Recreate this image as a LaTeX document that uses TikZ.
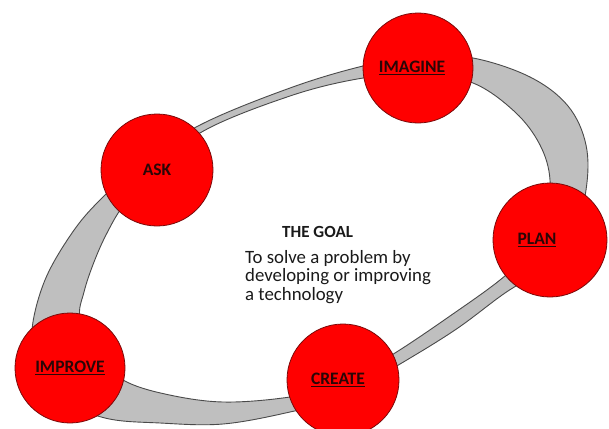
\documentclass[tikz,border=0pt]{standalone}
\usepackage{fontspec}
\setmainfont{Carlito}
\usetikzlibrary{positioning}
\definecolor{stageRed}{HTML}{FF0000}
\definecolor{stageRim}{HTML}{7A0A0A}
\definecolor{stageInk}{HTML}{2A0606}
\definecolor{ringGrey}{HTML}{BFBFBF}
\definecolor{ringEdge}{HTML}{4A4A4A}
\definecolor{goalInk}{HTML}{1A1A1A}
\begin{document}
\begin{tikzpicture}[
    x=1pt, y=-1pt,
    stage/.style={draw=stageRim, line width=0.8pt, circle, fill=stageRed, minimum size=112pt, inner sep=0pt, text=stageInk, font=\fontsize{17.5}{20}\selectfont\bfseries},
    ring/.style={draw=ringEdge, line width=0.9pt, fill=ringGrey, even odd rule},
    goal/.style={inner sep=0pt, text=goalInk, font=\fontsize{18.8}{18.5}\selectfont},
]
\useasboundingbox (0,0) rectangle (609,428);
\path[ring]
  plot[smooth cycle, tension=0.6] coordinates {
    (32,330) (45,280) (72,233) (100,200) (140,165) (200,125) (290,88) (363,66)
    (420,56) (473,58) (530,77) (568,106) (586,145) (586,190) (572,240) (545,268)
    (505,293) (455,330) (395,367) (340,398) (290,412) (223,424) (160,423) (105,418)
    (60,398) (38,365)}
  plot[smooth cycle, tension=0.6] coordinates {
    (80,318) (84,292) (94,262) (107,233) (124,205) (152,178) (200,133) (290,96)
    (363,78) (420,74) (473,83) (515,112) (540,145) (550,180) (545,220) (525,255)
    (500,280) (450,316) (395,353) (340,385) (290,397) (223,402) (165,394) (123,380)
    (95,355)};
\node[stage, minimum size=110pt] (imagine) at (418,68)  {\underline{IMAGINE}\hspace*{12pt}};
\node[stage]                     (ask)     at (157,170) {ASK};
\node[stage, minimum size=114pt] (plan)    at (550,240) {\underline{PLAN}\hspace*{26pt}};
\node[stage, minimum size=110pt] (improve) at (70,368)  {\underline{IMPROVE}};
\node[stage]                     (create)  at (343,380) {\underline{CREATE}\hspace*{10pt}};
\node[goal, anchor=base west, font=\fontsize{17}{18.5}\selectfont\bfseries] (goaltitle) at (282,237) {THE GOAL};
\node[goal, anchor=north west, align=left] (goaltext) at (245,250) {To solve a problem by\\developing or improving\\a technology};
\end{tikzpicture}
\end{document}
